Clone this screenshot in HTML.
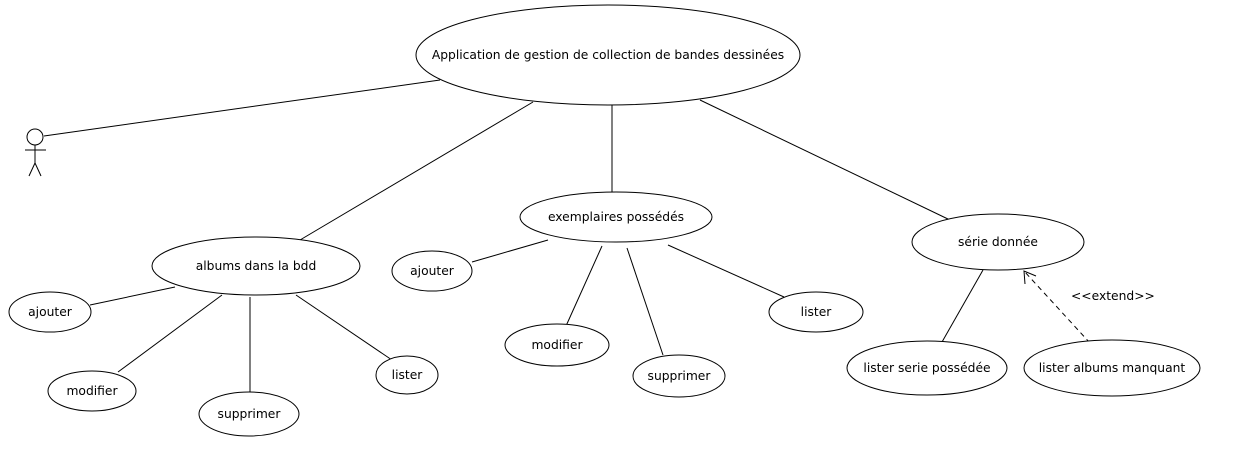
<!DOCTYPE html>
<html><head><meta charset="utf-8"><style>
html,body{margin:0;padding:0;background:#fff;width:1238px;height:468px;overflow:hidden}
svg text{font-family:"DejaVu Sans","Liberation Sans",sans-serif;font-size:12.3px;fill:#000}
</style></head><body>
<svg width="1238" height="468" viewBox="0 0 1238 468" xmlns="http://www.w3.org/2000/svg">
<g stroke="#000" stroke-width="1" fill="none">
<circle cx="35" cy="137" r="8"/>
<line x1="25" y1="150" x2="46" y2="150"/>
<line x1="35" y1="145" x2="35" y2="163"/>
<line x1="35" y1="163" x2="29" y2="176"/>
<line x1="35" y1="163" x2="41" y2="176"/>
<line x1="44" y1="136" x2="440" y2="80"/>
<line x1="533" y1="102" x2="300" y2="240"/>
<line x1="612" y1="105" x2="612" y2="192"/>
<line x1="700" y1="100" x2="950" y2="220"/>
<line x1="175" y1="287" x2="90" y2="305"/>
<line x1="222" y1="295" x2="118" y2="372"/>
<line x1="250" y1="297" x2="250" y2="393"/>
<line x1="296" y1="295" x2="392" y2="360"/>
<line x1="548" y1="240" x2="472" y2="262"/>
<line x1="602" y1="246" x2="566" y2="326"/>
<line x1="627" y1="248" x2="663" y2="355"/>
<line x1="668" y1="245" x2="784" y2="297"/>
<line x1="983" y1="270" x2="942" y2="342"/>
<line x1="1090" y1="343" x2="1024" y2="271" stroke-dasharray="5,4"/>
<polyline points="1025,284 1024,271 1036,276"/>
</g>
<g stroke="#000" stroke-width="1" fill="#fff">
<ellipse cx="608" cy="55" rx="192" ry="50"/>
<ellipse cx="256" cy="266" rx="104" ry="29"/>
<ellipse cx="616" cy="217" rx="96" ry="25"/>
<ellipse cx="998" cy="242" rx="86" ry="28"/>
<ellipse cx="50" cy="312" rx="41" ry="20"/>
<ellipse cx="92" cy="391" rx="44" ry="20"/>
<ellipse cx="249" cy="414" rx="50" ry="22"/>
<ellipse cx="407" cy="375" rx="31" ry="19"/>
<ellipse cx="432" cy="271" rx="40" ry="20"/>
<ellipse cx="557" cy="345" rx="52" ry="21"/>
<ellipse cx="679" cy="376" rx="46" ry="21"/>
<ellipse cx="816" cy="312" rx="47" ry="20"/>
<ellipse cx="927" cy="368" rx="80" ry="27"/>
<ellipse cx="1112" cy="368" rx="88" ry="28"/>
</g>
<g text-anchor="middle">
<text x="608" y="59">Application de gestion de collection de bandes dessinées</text>
<text x="256" y="270">albums dans la bdd</text>
<text x="616" y="221">exemplaires possédés</text>
<text x="998" y="246">série donnée</text>
<text x="50" y="316">ajouter</text>
<text x="92" y="395">modifier</text>
<text x="249" y="418">supprimer</text>
<text x="407" y="379">lister</text>
<text x="432" y="275">ajouter</text>
<text x="557" y="349">modifier</text>
<text x="679" y="380">supprimer</text>
<text x="816" y="316">lister</text>
<text x="927" y="372">lister serie possédée</text>
<text x="1112" y="372">lister albums manquant</text>
</g>
<text x="1071" y="300">&lt;&lt;extend&gt;&gt;</text>
</svg>
</body></html>
